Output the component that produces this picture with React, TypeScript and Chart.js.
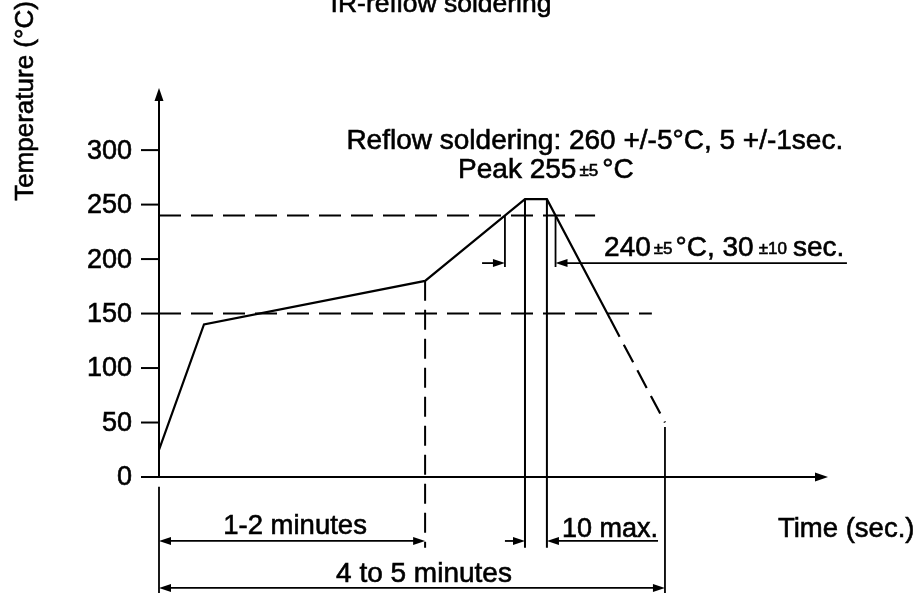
import React, { useEffect, useRef } from "react";
import { Chart, registerables } from "chart.js";

Chart.register(...registerables);

// ---- data (time in arbitrary seconds, temperature in °C) ----
const yTicks = [0, 50, 100, 150, 200, 250, 300];
const profileTime = [0, 24, 142, 195.3, 207, 240.8];
const profileTemp = [25, 140, 180, 255, 255, 145];
const coolTime = [240.8, 270];
const coolTemp = [145, 50];
const reflowLevel = 240;
const preheatLevel = 150;
const reflowLineEnd = 232.7;
const preheatLineEnd = 263;
const above240Time = [184.6, 211.6];
const peakTime = [195.3, 207];
const preheatEnd = 142;
const cycleEnd = 270;
const axisMaxTime = 357;
const axisMaxTemp = 357;

const FONT = '"Liberation Sans", Arial, Helvetica, sans-serif';

const diagramPlugin = {
  id: "diagram",
  afterDraw(chart: any) {
    const ctx: CanvasRenderingContext2D = chart.ctx;
    const xs = chart.scales.x;
    const ys = chart.scales.y;
    const X = (t: number) => xs.getPixelForValue(t);
    const Y = (v: number) => ys.getPixelForValue(v);

    ctx.save();
    ctx.strokeStyle = "#000";
    ctx.fillStyle = "#000";
    ctx.lineCap = "butt";

    const line = (x1: number, y1: number, x2: number, y2: number, w = 2, dash: number[] = []) => {
      ctx.beginPath();
      ctx.setLineDash(dash);
      ctx.lineWidth = w;
      ctx.moveTo(x1, y1);
      ctx.lineTo(x2, y2);
      ctx.stroke();
      ctx.setLineDash([]);
    };
    const arrow = (tx: number, ty: number, dir: string, len = 12, half = 4) => {
      ctx.beginPath();
      ctx.moveTo(tx, ty);
      if (dir === "right") {
        ctx.lineTo(tx - len, ty - half);
        ctx.lineTo(tx - len, ty + half);
      } else if (dir === "left") {
        ctx.lineTo(tx + len, ty - half);
        ctx.lineTo(tx + len, ty + half);
      } else if (dir === "up") {
        ctx.lineTo(tx - half, ty + len);
        ctx.lineTo(tx + half, ty + len);
      }
      ctx.closePath();
      ctx.fill();
    };
    const paintText = (s: string, x: number, y: number) => {
      ctx.lineWidth = 0.6;
      ctx.setLineDash([]);
      ctx.strokeText(s, x, y);
      ctx.fillText(s, x, y);
    };
    const text = (s: string, x: number, y: number, size: number, align: CanvasTextAlign = "left") => {
      ctx.font = `${size}px ${FONT}`;
      ctx.textAlign = align;
      ctx.textBaseline = "alphabetic";
      paintText(s, x, y);
      return ctx.measureText(s).width;
    };
    const runs = (parts: [string, number, number][], x: number, y: number) => {
      let cx = x;
      for (const [s, size, gapBefore] of parts) {
        cx += gapBefore;
        const w = text(s, cx, y + (size < 20 ? -2 : 0), size);
        cx += w;
      }
    };

    const x0 = X(0);
    const y0 = Y(0);

    // axes
    line(x0, y0, x0, Y(axisMaxTemp) + 10, 2);
    arrow(x0, Y(axisMaxTemp), "up", 13, 4.5);
    line(x0 - 18, y0, X(axisMaxTime) - 10, y0, 2);
    arrow(X(axisMaxTime), y0, "right", 13, 4.5);

    // y ticks
    for (const v of yTicks) {
      line(x0 - 18, Y(v), x0, Y(v), 2);
      ctx.font = `27px ${FONT}`;
      ctx.textAlign = "right";
      ctx.textBaseline = "middle";
      paintText(String(v), x0 - 27, Y(v) + 1);
    }

    // dashed level lines
    line(x0, Y(reflowLevel), X(reflowLineEnd), Y(reflowLevel), 2, [22, 10]);
    line(x0, Y(preheatLevel), X(preheatLineEnd), Y(preheatLevel), 2, [22, 10]);

    // vertical dashed at end of preheat
    line(X(preheatEnd), Y(180), X(preheatEnd), Y(-65), 2, [20, 9]);

    // peak verticals
    for (const t of peakTime) line(X(t), Y(255), X(t), Y(-65), 2);
    // 240 crossing verticals
    for (const t of above240Time) line(X(t), Y(reflowLevel), X(t), Y(192.7), 1.8);

    // 240 dimension line
    const yd = Y(196.3);
    line(X(172.4), yd, X(above240Time[0]) - 8, yd, 1.8);
    arrow(X(above240Time[0]), yd, "right");
    arrow(X(above240Time[1]), yd, "left");
    line(X(above240Time[1]) + 8, yd, X(367.1), yd, 1.8);

    // verticals below axis
    line(x0, Y(-9), x0, Y(-107), 1.8);
    line(X(cycleEnd), Y(46), X(cycleEnd), Y(-107), 1.8);

    // 1-2 minutes dimension
    const y12 = Y(-58.7);
    line(x0 + 8, y12, X(preheatEnd) - 8, y12, 1.8);
    arrow(x0, y12, "left");
    arrow(X(preheatEnd), y12, "right");

    // 10 max. dimension
    line(X(184.6), y12, X(peakTime[0]) - 8, y12, 1.8);
    arrow(X(peakTime[0]), y12, "right");
    arrow(X(peakTime[1]), y12, "left");
    line(X(peakTime[1]) + 8, y12, X(266.3), y12, 1.8);

    // 4 to 5 minutes dimension
    const y45 = Y(-101.8);
    line(x0 + 8, y45, X(cycleEnd) - 8, y45, 1.8);
    arrow(x0, y45, "left");
    arrow(X(cycleEnd), y45, "right");

    // texts
    text("IR-reflow soldering", X(150.5), Y(426.6), 26.5, "center");
    text("Reflow soldering: 260 +/-5°C, 5 +/-1sec.", X(100), Y(301), 28);
    runs([["Peak 255", 28, 0], ["±5", 17, 3], ["°C", 28, 4]], X(159.6), Y(274.3));
    runs(
      [["240", 28, 0], ["±5", 17, 3], ["°C, 30", 28, 3], ["±10", 17, 5], ["sec.", 28, 6]],
      X(237.5),
      Y(202.75)
    );
    text("1-2 minutes", X(72.6), Y(-52.3), 27.5, "center");
    text("10 max.", X(215), Y(-55), 27);
    text("4 to 5 minutes", X(141.4), Y(-96.3), 28, "center");
    text("Time (sec.)", X(330.3), Y(-55), 27.5);

    // y title
    ctx.save();
    ctx.translate(33, 101);
    ctx.rotate(-Math.PI / 2);
    ctx.font = `26px ${FONT}`;
    ctx.textAlign = "center";
    ctx.textBaseline = "alphabetic";
    paintText("Temperature (°C)", 0, 0);
    ctx.restore();

    ctx.restore();
  },
};

export default function App() {
  const ref = useRef<HTMLCanvasElement | null>(null);
  useEffect(() => {
    if (!ref.current) return;
    const chart = new Chart(ref.current, {
      type: "scatter",
      data: {
        datasets: [
          {
            label: "profile",
            data: profileTime.map((t, i) => ({ x: t, y: profileTemp[i] })),
            showLine: true,
            borderColor: "#000",
            borderWidth: 2.2,
            pointRadius: 0,
            clip: false as any,
          },
          {
            label: "cooling",
            data: coolTime.map((t, i) => ({ x: t, y: coolTemp[i] })),
            showLine: true,
            borderColor: "#000",
            borderWidth: 2.2,
            borderDash: [20, 9],
            pointRadius: 0,
            clip: false as any,
          },
        ],
      },
      options: {
        animation: false,
        responsive: true,
        maintainAspectRatio: false,
        layout: { padding: { left: 159, right: 91, top: 88, bottom: 116 } },
        plugins: { legend: { display: false }, tooltip: { enabled: false }, title: { display: false } },
        scales: {
          x: { type: "linear", min: 0, max: axisMaxTime, display: false },
          y: { type: "linear", min: 0, max: axisMaxTemp, display: false },
        },
      },
      plugins: [diagramPlugin],
    });
    return () => chart.destroy();
  }, []);
  return (
    <div style={{ position: "fixed", left: 0, top: 0, width: 919, height: 593, background: "#fff" }}>
      <canvas ref={ref} />
    </div>
  );
}
